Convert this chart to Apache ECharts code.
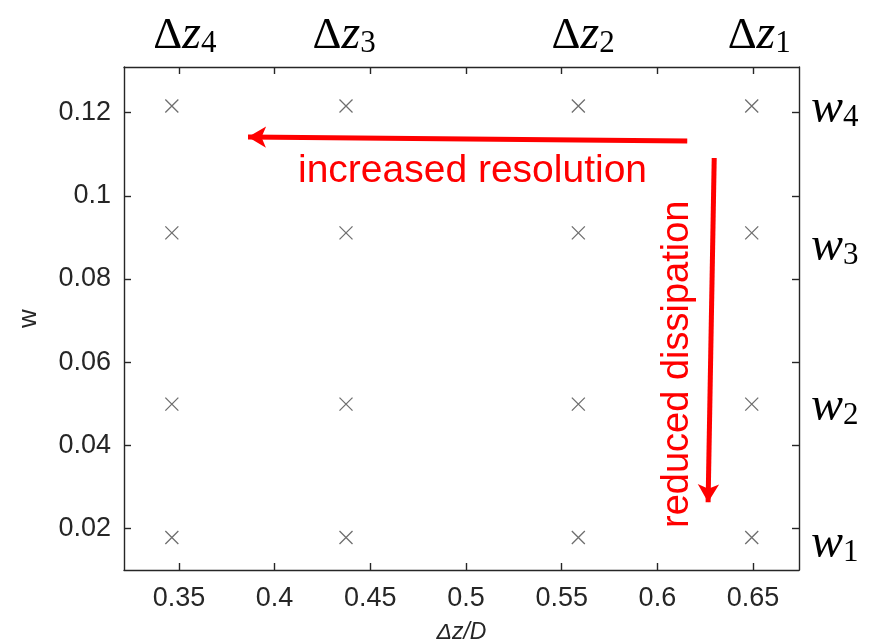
<!DOCTYPE html>
<html>
<head>
<meta charset="utf-8">
<script src="https://cdn.jsdelivr.net/npm/echarts@6/dist/echarts.min.js"></script>
<style>html,body{margin:0;padding:0;background:#fff}#c{width:877px;height:643px}</style>
</head>
<body>
<div id="c"></div>
<script>
// ---- data ----
const colX = [0.3463, 0.4373, 0.5587, 0.6493];      // Δz/D of the four resolutions
const rowY = [0.0178, 0.0499, 0.0911, 0.1216];      // w of the four dissipation levels
const xTicks = [0.35, 0.4, 0.45, 0.5, 0.55, 0.6, 0.65];
const yTicks = [0.02, 0.04, 0.06, 0.08, 0.1, 0.12];
const xRange = [0.3213, 0.674];
const yRange = [0.01, 0.131];
const dzLabelX = [0.3531, 0.4363, 0.5612, 0.6532];  // Δz_4, Δz_3, Δz_2, Δz_1
const dzSubs = ['4', '3', '2', '1'];
const wLabelY = [0.0183, 0.0512, 0.0897, 0.1229];   // w_1 .. w_4
const wSubs = ['1', '2', '3', '4'];
const arrowRes = [[0.6156, 0.1132], [0.3861, 0.11415]];  // increased resolution
const arrowDis = [[0.6297, 0.1091], [0.6265, 0.0263]];   // reduced dissipation
const txtRes = { text: 'increased resolution', at: [0.5034, 0.1060] };
const txtDis = { text: 'reduced dissipation', at: [0.6106, 0.0595] };

const points = [];
colX.forEach(x => rowY.forEach(y => points.push([x, y])));

const axisColor = '#262626';
const fmt = v => String(parseFloat(Number(v).toFixed(4)));
const nearestIdx = (arr, v) => {
  let best = 0;
  arr.forEach((a, i) => { if (Math.abs(a - v) < Math.abs(arr[best] - v)) best = i; });
  return best;
};
const mathRich = {
  d: { fontFamily: 'Liberation Serif', fontSize: 45, lineHeight: 66, color: '#000', verticalAlign: 'bottom' },
  z: { fontFamily: 'Liberation Serif', fontStyle: 'italic', fontSize: 48, lineHeight: 66, color: '#000', verticalAlign: 'bottom' },
  s: { fontFamily: 'Liberation Serif', fontSize: 31, lineHeight: 30, color: '#000', verticalAlign: 'bottom' }
};
const redFont = '"Liberation Sans Narrow", "Liberation Sans", Arial, sans-serif';

const chart = echarts.init(document.getElementById('c'), null, { renderer: 'canvas' });
chart.setOption({
  animation: false,
  backgroundColor: '#fff',
  grid: { left: 124, right: 78, top: 67, bottom: 73, containLabel: false, outerBoundsMode: 'none' },
  xAxis: [{
    type: 'value', position: 'bottom', min: xRange[0], max: xRange[1],
    name: 'Δz/D', nameLocation: 'middle', nameGap: 51,
    nameTextStyle: { fontFamily: 'Liberation Sans', fontStyle: 'italic', fontSize: 23, color: axisColor },
    axisLine: { show: true, lineStyle: { color: axisColor, width: 1.4 } },
    axisTick: { show: true, inside: true, length: 7, customValues: xTicks, lineStyle: { color: axisColor, width: 1.4 } },
    axisLabel: { show: true, customValues: xTicks, formatter: fmt, margin: 15, fontFamily: 'Liberation Sans', fontSize: 27, color: axisColor },
    splitLine: { show: false }
  }, {
    type: 'value', position: 'top', min: xRange[0], max: xRange[1],
    axisLine: { show: true, lineStyle: { color: axisColor, width: 1.4 } },
    axisTick: { show: true, inside: true, length: 7, customValues: xTicks, lineStyle: { color: axisColor, width: 1.4 } },
    axisLabel: {
      show: true, customValues: dzLabelX, margin: 8,
      formatter: v => '{d|Δ}{z|z}{s|' + dzSubs[nearestIdx(dzLabelX, v)] + '}',
      rich: mathRich
    },
    splitLine: { show: false }
  }],
  yAxis: [{
    type: 'value', position: 'left', min: yRange[0], max: yRange[1],
    name: 'w', nameLocation: 'middle', nameGap: 82, nameRotate: 90,
    nameTextStyle: { fontFamily: 'Liberation Sans', fontSize: 26, color: axisColor },
    axisLine: { show: true, lineStyle: { color: axisColor, width: 1.4 } },
    axisTick: { show: true, inside: true, length: 7, customValues: yTicks, lineStyle: { color: axisColor, width: 1.4 } },
    axisLabel: { show: true, customValues: yTicks, formatter: fmt, margin: 13, fontFamily: 'Liberation Sans', fontSize: 27, color: axisColor },
    splitLine: { show: false }
  }, {
    type: 'value', position: 'right', min: yRange[0], max: yRange[1],
    axisLine: { show: true, lineStyle: { color: axisColor, width: 1.4 } },
    axisTick: { show: true, inside: true, length: 7, customValues: yTicks, lineStyle: { color: axisColor, width: 1.4 } },
    axisLabel: {
      show: true, customValues: wLabelY, margin: 12,
      formatter: v => '{z|w}{s|' + wSubs[nearestIdx(wLabelY, v)] + '}',
      rich: mathRich
    },
    splitLine: { show: false }
  }],
  series: [{
    type: 'scatter',
    xAxisIndex: 0, yAxisIndex: 0,
    data: points,
    symbol: 'path://M0,0L10,10M10,0L0,10',
    symbolSize: 13,
    itemStyle: { color: 'none', borderColor: '#4a4a4a', borderWidth: 1.3 },
    emphasis: { disabled: true },
    silent: true,
    markLine: {
      silent: true,
      symbol: ['none', 'arrow'],
      symbolSize: [16, 18],
      label: { show: false },
      lineStyle: { color: '#ff0000', width: 5, type: 'solid' },
      data: [
        [{ coord: arrowRes[0] }, { coord: arrowRes[1] }],
        [{ coord: arrowDis[0] }, { coord: arrowDis[1] }]
      ]
    },
    markPoint: {
      silent: true,
      symbol: 'circle', symbolSize: 1,
      itemStyle: { color: 'transparent' },
      data: [
        { coord: txtRes.at, label: { show: true, position: 'inside', formatter: txtRes.text, color: '#ff0000', fontFamily: redFont, fontSize: 39 } },
        { coord: txtDis.at, label: { show: true, position: 'inside', rotate: 90, formatter: txtDis.text, color: '#ff0000', fontFamily: redFont, fontSize: 38 } }
      ]
    }
  }]
});
</script>
</body>
</html>
